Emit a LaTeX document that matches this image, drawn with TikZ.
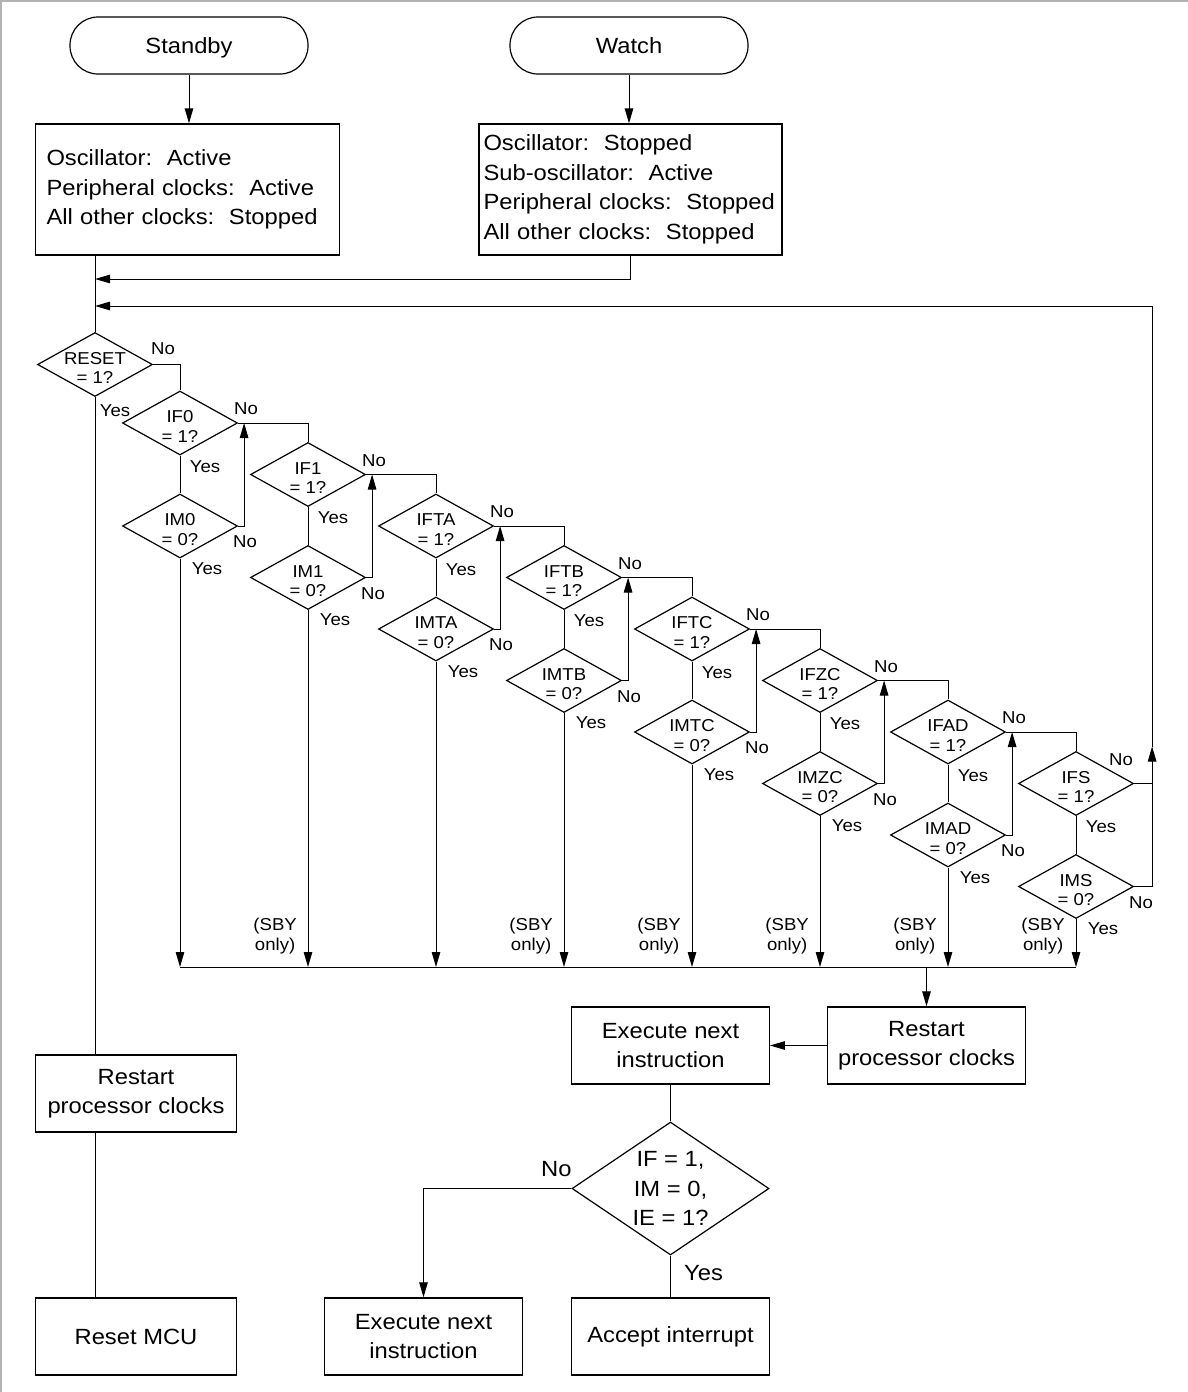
\documentclass[tikz,border=0pt]{standalone}
\usepackage{fontspec}
\setmainfont[FakeStretch=1.08]{Liberation Sans}
\usetikzlibrary{shapes.geometric,arrows.meta,calc}
\newcommand\smallfnt{\fontsize{17.2}{19.5}\selectfont}
\newcommand\bigfnt{\fontsize{22}{29.5}\selectfont}
\begin{document}
\begin{tikzpicture}[x=1pt,y=-1pt,
  ln/.style={line width=1pt},
  arr/.style={ln,-{Triangle[length=15pt,width=8.5pt]}},
  box/.style={draw,line width=1.4pt,font=\bigfnt,align=center,inner sep=0pt},
  dia/.style={diamond,draw,line width=1.2pt,minimum width=115pt,minimum height=64pt,aspect=1.8,inner sep=-4pt,font=\smallfnt,align=center,text height=38.5pt,text depth=0pt},
  lbl/.style={font=\smallfnt,inner sep=0pt},
  term/.style={draw,line width=1.2pt,rounded corners=28pt,minimum width=238pt,minimum height=57pt,font=\bigfnt,text depth=0pt}
]
\useasboundingbox (0,0) rectangle (1188,1392);
\draw[gray!60,line width=2pt] (0,1) -- (1188,1) (1,0) -- (1,1392);

% top
\node[term] (stby) at (189,45.5) {Standby};
\node[term] (watch) at (629,45.5) {Watch};
\node[box,minimum width=304pt,minimum height=131pt,align=left,text width=282pt,inner xsep=11pt] (stbybox) at (187.5,189.5)
  {Oscillator:\ \ Active\\Peripheral clocks:\ \ Active\\All other clocks:\ \ Stopped};
\node[box,minimum width=303pt,minimum height=131pt,align=left,text width=294pt,inner xsep=4.5pt] (watchbox) at (630.5,189.5)
  {Oscillator:\ \ Stopped\\Sub-oscillator:\ \ Active\\Peripheral clocks:\ \ Stopped\\All other clocks:\ \ Stopped};
\draw[arr] (stby.south) -- (stby.south |- stbybox.north);
\draw[arr] (watch.south) -- (watch.south |- watchbox.north);

\coordinate (j1) at (95,279);
\coordinate (j2) at (95,306);
\coordinate (bus) at (0,967);

% reset diamond
\node[dia] (reset) at (95,364.5) {RESET\\= 1?};
\draw[ln] (stbybox.south -| reset.north) -- (reset.north);
\draw[arr] (watchbox.south) |- (j1);
\node[lbl] at ($(reset.east)+(10,-16)$) {No};
\node[lbl] at ($(reset.south)+(20,14)$) {Yes};

% chain
\foreach \a/\b [count=\k from 0] in {IF0/IM0,IF1/IM1,IFTA/IMTA,IFTB/IMTB,IFTC/IMTC,IFZC/IMZC,IFAD/IMAD,IFS/IMS}{
  \node[dia] (if\k) at ({180+128*\k},{423+51.5*\k}) {\a\\= 1?};
  \node[dia] (im\k) at ({180+128*\k},{526+51.5*\k}) {\b\\= 0?};
}
\draw[ln] (reset.east) -| (if0.north);
\foreach \k in {0,...,7}{
  \draw[ln] (if\k.south) -- (im\k.north);
  \node[lbl] at ($(if\k.south)+(25,11)$) {Yes};
  \node[lbl] at ($(im\k.south)+(27,10)$) {Yes};
  \node[lbl] at ($(im\k.east)+(7,16)$) {No};
  \draw[arr] (im\k.south) -- (im\k.south |- bus);
}
\foreach \k [evaluate=\k as \n using int(\k+1)] in {0,...,6}{
  \draw[ln] (if\k.east) -| (if\n.north);
  \node[lbl] at ($(if\k.east)+(8,-14)$) {No};
  \draw[arr] (im\k.east) -| ($(if\k.east)+(6,0)$);
}
\node[lbl] at ($(if7.east)+(-13,-24)$) {No};
\coordinate (rj) at ($(if7.east)+(18,0)$);
\coordinate (ra) at ($(rj)+(0,-37)$);
\draw[ln] (if7.east) -- (rj);
\draw[ln] (im7.east) -| (rj);
\draw[arr] (rj) -- (ra);
\draw[arr] (ra) |- (j2);

% bus
\draw[ln] (im0.south |- bus) -- (im7.south |- bus);
\foreach \k in {1,3,4,5,6,7}{
  \node[lbl,align=center,anchor=east] at ($(im\k.south |- bus)+(-11,-31)$) {(SBY\\only)};
}

% bottom right
\node[box,minimum width=197.5pt,minimum height=77pt] (restart2) at (926.5,1045.5) {Restart\\processor clocks};
\node[box,minimum width=197.5pt,minimum height=77pt] (exec1) at (670.5,1045.5) {Execute next\\instruction};
\draw[arr] (restart2.north |- bus) -- (restart2.north);
\draw[arr] (restart2.west) -- (exec1.east);
\node[diamond,draw,line width=1.2pt,minimum width=197pt,minimum height=133pt,aspect=1.48,inner sep=-2pt,font=\bigfnt,align=center] (bigd) at (670.5,1188.5) {IF = 1,\\IM = 0,\\IE = 1?};
\node[box,minimum width=197.5pt,minimum height=77pt] (exec2) at (423.5,1336.5) {Execute next\\instruction};
\node[box,minimum width=197.5pt,minimum height=77pt] (accept) at (670.5,1336.5) {Accept interrupt};
\draw[ln] (exec1.south) -- (bigd.north);
\draw[arr] (bigd.west) -| (exec2.north);
\draw[ln] (bigd.south) -- (accept.north);
\node[font=\bigfnt,inner sep=0pt] at ($(bigd.west)+(-15,-19)$) {No};
\node[font=\bigfnt,inner sep=0pt] at ($(bigd.south)+(33,17)$) {Yes};

% bottom left
\node[box,minimum width=200.5pt,minimum height=77pt] (restart1) at (136,1093.5) {Restart\\processor clocks};
\node[box,minimum width=200.5pt,minimum height=77pt] (resetmcu) at (136,1336.5) {Reset MCU};
\draw[ln] (reset.south) -- (reset.south |- restart1.north);
\draw[ln] (reset.south |- restart1.south) -- (reset.south |- resetmcu.north);
\end{tikzpicture}
\end{document}
